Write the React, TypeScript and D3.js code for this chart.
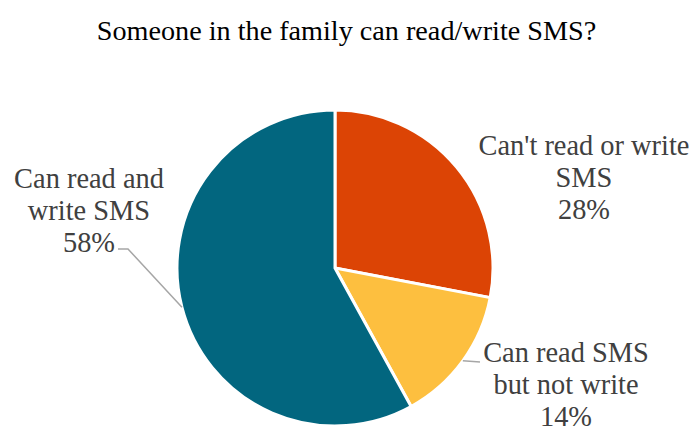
import React from "react";
import * as d3 from "d3";

const title = "Someone in the family can read/write SMS?";
const categories = ["Can't read or write SMS", "Can read SMS but not write", "Can read and write SMS"];
const values = [28, 14, 58];
const labelLines = [
  ["Can't read or write", "SMS", "28%"],
  ["Can read SMS", "but not write", "14%"],
  ["Can read and", "write SMS", "58%"],
];
const colors = ["#DC4405", "#FDBF3F", "#02667F"];

const W = 693;
const H = 431;
const cx = 335;
const cy = 268;
const R = 158;
const FONT = "\"Liberation Serif\"";
const FS = 28.4;
const LH = 32;

const labelLayout = [
  { x: 584, y: 155, leader: null as null | [number, number][] },
  { x: 566, y: 362, leader: [[480, 362]] as [number, number][] },
  { x: 89, y: 188, leader: [[128, 249], [118, 249]] as [number, number][] },
];

export default function App() {
  const pie = d3.pie<number>().sort(null).value((d) => d)(values);
  const arc = d3.arc<d3.PieArcDatum<number>>().innerRadius(0).outerRadius(R);
  const total = d3.sum(values);

  return (
    <svg
      width={W}
      height={H}
      style={{ position: "absolute", left: 0, top: 0, background: "#fff" }}
    >
      <text x={W / 2} y={40} textAnchor="middle" fontSize={28.2} fill="#000" style={{ fontFamily: FONT }}>
        {title}
      </text>
      <g transform={`translate(${cx},${cy})`}>
        {pie.map((p, i) => (
          <path key={categories[i]} d={arc(p) || ""} fill={colors[i]} stroke="#fff" strokeWidth={3} />
        ))}
      </g>
      {pie.map((p, i) => {
        const lay = labelLayout[i];
        if (!lay.leader) return null;
        const mid = (p.startAngle + p.endAngle) / 2;
        const sx = cx + Math.sin(mid) * R;
        const sy = cy - Math.cos(mid) * R;
        const pts: [number, number][] = [[sx, sy], ...lay.leader];
        return (
          <path
            key={"l" + i}
            d={d3.line()(pts) || ""}
            fill="none"
            stroke="#A6A6A6"
            strokeWidth={1.5}
          />
        );
      })}
      {labelLines.map((lines, i) => {
        const lay = labelLayout[i];
        const pct = Math.round((values[i] / total) * 100) + "%";
        const ls = [...lines.slice(0, -1), pct];
        return (
          <text key={"t" + i} x={lay.x} y={lay.y} textAnchor="middle" fontSize={FS} fill="#404040" style={{ fontFamily: FONT }}>
            {ls.map((l, j) => (
              <tspan key={j} x={lay.x} y={lay.y + j * LH}>
                {l}
              </tspan>
            ))}
          </text>
        );
      })}
    </svg>
  );
}
